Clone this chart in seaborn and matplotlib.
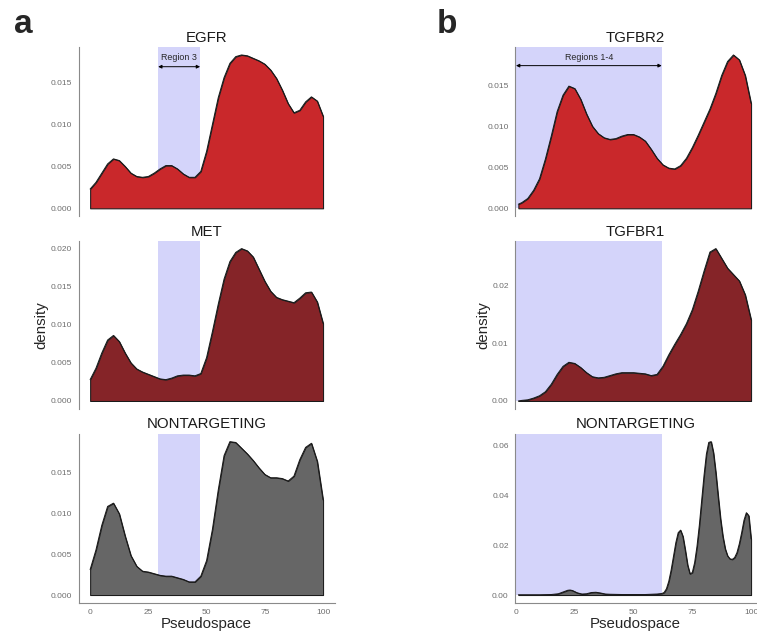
import numpy as np
import matplotlib
matplotlib.use("Agg")
import matplotlib.pyplot as plt
import seaborn as sns

# pseudospace grid for panel a curves and the TGFBR curves in panel b
x_a = [0, 2.5, 5, 7.5, 10, 12.5, 15, 17.5, 20, 22.5, 25, 27.5, 30, 32.5, 35, 37.5, 40,
       42.5, 45, 47.5, 50, 52.5, 55, 57.5, 60, 62.5, 65, 67.5, 70, 72.5, 75, 77.5, 80,
       82.5, 85, 87.5, 90, 92.5, 95, 97.5, 100]
x_b = [1] + x_a[1:]

egfr = [0.0023, 0.0031, 0.0042, 0.0053, 0.0059, 0.0057, 0.0050, 0.0042, 0.0038, 0.0037,
        0.0038, 0.0042, 0.0047, 0.0051, 0.0051, 0.0047, 0.0041, 0.0037, 0.0037, 0.0044,
        0.0068, 0.0100, 0.0132, 0.0156, 0.0173, 0.0181, 0.0183, 0.0182, 0.0179, 0.0176,
        0.0172, 0.0165, 0.0155, 0.0141, 0.0125, 0.0114, 0.0117, 0.0127, 0.0133, 0.0128,
        0.0110]
met = [0.0028, 0.0043, 0.0063, 0.0080, 0.0086, 0.0078, 0.0063, 0.0050, 0.0042, 0.0038,
       0.0035, 0.0032, 0.0029, 0.0028, 0.0030, 0.0033, 0.0034, 0.0034, 0.0033, 0.0036,
       0.0057, 0.0091, 0.0127, 0.0160, 0.0183, 0.0195, 0.0200, 0.0197, 0.0189, 0.0173,
       0.0157, 0.0144, 0.0136, 0.0133, 0.0131, 0.0129, 0.0135, 0.0142, 0.0143, 0.0130,
       0.0102]
nt_a = [0.0031, 0.0055, 0.0085, 0.0108, 0.0112, 0.0099, 0.0072, 0.0048, 0.0035, 0.0029,
        0.0028, 0.0026, 0.0024, 0.0023, 0.0023, 0.0021, 0.0019, 0.0016, 0.0016, 0.0023,
        0.0042, 0.0080, 0.0128, 0.0170, 0.0187, 0.0186, 0.0179, 0.0172, 0.0164, 0.0155,
        0.0147, 0.0143, 0.0143, 0.0142, 0.0139, 0.0145, 0.0165, 0.0180, 0.0185, 0.0163,
        0.0116]

tgfbr2 = [0.0005, 0.0007, 0.0012, 0.0022, 0.0036, 0.0060, 0.0088, 0.0118, 0.0138, 0.0149,
          0.0146, 0.0133, 0.0115, 0.0100, 0.0091, 0.0086, 0.0084, 0.0085, 0.0088, 0.0090,
          0.0090, 0.0087, 0.0082, 0.0072, 0.0061, 0.0053, 0.0049, 0.0048, 0.0052, 0.0061,
          0.0074, 0.0089, 0.0105, 0.0121, 0.0140, 0.0162, 0.0179, 0.0187, 0.0181, 0.0162,
          0.0128]
tgfbr1 = [0.0000, 0.0001, 0.0002, 0.0005, 0.0009, 0.0016, 0.0029, 0.0046, 0.0060, 0.0067,
          0.0065, 0.0058, 0.0049, 0.0042, 0.0040, 0.0041, 0.0044, 0.0047, 0.0049, 0.0049,
          0.0049, 0.0048, 0.0047, 0.0044, 0.0046, 0.0060, 0.0080, 0.0098, 0.0115, 0.0134,
          0.0158, 0.0190, 0.0225, 0.0258, 0.0264, 0.0247, 0.0230, 0.0219, 0.0208, 0.0184,
          0.0141]

x_nt_b = [1, 5, 10, 15, 18, 20, 22, 23, 24, 26, 28, 30, 32, 34, 36, 38, 40, 45, 50, 55,
          60, 62, 63, 64, 65, 66, 67, 68, 69, 70, 71, 72, 73, 74, 75, 76, 77, 78, 79, 80,
          81, 82, 83, 84, 85, 86, 87, 88, 89, 90, 91, 92, 93, 94, 95, 96, 97, 98, 99, 100]
nt_b = [0.0001, 0.0001, 0.0001, 0.0002, 0.0005, 0.0012, 0.0019, 0.0020, 0.0018, 0.0009,
        0.0004, 0.0005, 0.0010, 0.0011, 0.0008, 0.0004, 0.0003, 0.0002, 0.0002, 0.0002,
        0.0004, 0.0006, 0.0010, 0.0025, 0.0055, 0.0100, 0.0155, 0.0210, 0.0250, 0.0260,
        0.0235, 0.0180, 0.0120, 0.0085, 0.0090, 0.0130, 0.0195, 0.0280, 0.0380, 0.0480,
        0.0565, 0.0612, 0.0615, 0.0570, 0.0490, 0.0395, 0.0305, 0.0235, 0.0185, 0.0157,
        0.0145, 0.0143, 0.0150, 0.0170, 0.0205, 0.0250, 0.0300, 0.0330, 0.0318, 0.0225]

region_a = (29.2, 47.2)
region_b = (0, 62)
label_a = "Region 3"
label_b = "Regions 1-4"

sns.set_style("white")
plt.rcParams["font.family"] = ["Liberation Sans", "DejaVu Sans"]

W, H = 757, 632
fig = plt.figure(figsize=(W / 100, H / 100), dpi=100)


def px_axes(left, right, top, bottom):
    return fig.add_axes([left / W, 1 - bottom / H, (right - left) / W, (bottom - top) / H])


rows = [(47.3, 216.0), (241.0, 408.6), (434.0, 602.7)]
cols = [(78.5, 334.7, (-5, 105)), (515.0, 756.0, (-0.43, 102.1))]

panels = [
    [("EGFR", x_a, egfr, "#C9282B", [0, 0.005, 0.010, 0.015], "{:.3f}"),
     ("MET", x_a, met, "#852428", [0, 0.005, 0.010, 0.015, 0.020], "{:.3f}"),
     ("NONTARGETING", x_a, nt_a, "#666666", [0, 0.005, 0.010, 0.015], "{:.3f}")],
    [("TGFBR2", x_b, tgfbr2, "#C9282B", [0, 0.005, 0.010, 0.015], "{:.3f}"),
     ("TGFBR1", x_b, tgfbr1, "#852428", [0, 0.01, 0.02], "{:.2f}"),
     ("NONTARGETING", x_nt_b, nt_b, "#666666", [0, 0.02, 0.04, 0.06], "{:.2f}")],
]
regions = [region_a, region_b]
arrow_labels = [(label_a, 0.0169, 0.0180), (label_b, 0.0174, 0.0184)]

axis_col = "#8a8a8a"
for c, (left, right, xlim) in enumerate(cols):
    for r, (top, bottom) in enumerate(rows):
        title, xs, ys, color, yticks, fmt = panels[c][r]
        ax = px_axes(left, right, top, bottom)
        m = max(ys)
        ax.set_xlim(*xlim)
        ax.set_ylim(-0.05 * m, 1.05 * m)
        lo, hi = regions[c]
        ax.axvspan(lo, hi, ymin=0.05 / 1.10, ymax=1, color="#D4D4FA", lw=0, zorder=1)
        ax.fill_between(xs, 0, ys, facecolor=color, edgecolor="#1a1a1a", lw=0.75,
                        joinstyle="round", zorder=2)
        sns.lineplot(x=xs, y=ys, ax=ax, color="#1a1a1a", lw=0.75, zorder=3,
                     solid_joinstyle="round")
        ax.set_yticks(yticks)
        ax.set_yticklabels([fmt.format(v) for v in yticks])
        ax.tick_params(axis="both", length=3, width=0.6, color=axis_col,
                       labelsize=6.0, labelcolor="#6e6e6e", pad=1.5)
        for s in ["top", "right"]:
            ax.spines[s].set_visible(False)
        ax.spines["left"].set_color(axis_col)
        ax.spines["left"].set_linewidth(0.8)
        if r < 2:
            ax.spines["bottom"].set_visible(False)
            ax.set_xticks([])
        else:
            ax.spines["bottom"].set_color(axis_col)
            ax.spines["bottom"].set_linewidth(0.8)
            ax.set_xticks([0, 25, 50, 75, 100])
            ax.set_xlabel("Pseudospace", fontsize=10.8, labelpad=1)
        ax.set_ylabel("density" if r == 1 else "", fontsize=10.8, labelpad=1.5)
        ax.text(0.5, 1.0 + 9.5 / (bottom - top), title, transform=ax.transAxes,
                ha="center", va="center", fontsize=10.8, color="#1a1a1a")
        if r == 0:
            txt, ya, yt = arrow_labels[c]
            ax.annotate("", xy=(hi, ya), xytext=(lo, ya),
                        arrowprops=dict(arrowstyle="<|-|>", color="black", lw=0.7,
                                        mutation_scale=5, shrinkA=0, shrinkB=0), zorder=4)
            ax.text((lo + hi) / 2, yt, txt, ha="center", va="center", fontsize=6.4, zorder=4)

fig.text(14 / W, 1 - 33 / H, "a", fontsize=24, fontweight="bold", ha="left", va="baseline")
fig.text(437 / W, 1 - 33 / H, "b", fontsize=24, fontweight="bold", ha="left", va="baseline")

fig.savefig("out.png", dpi=100)
